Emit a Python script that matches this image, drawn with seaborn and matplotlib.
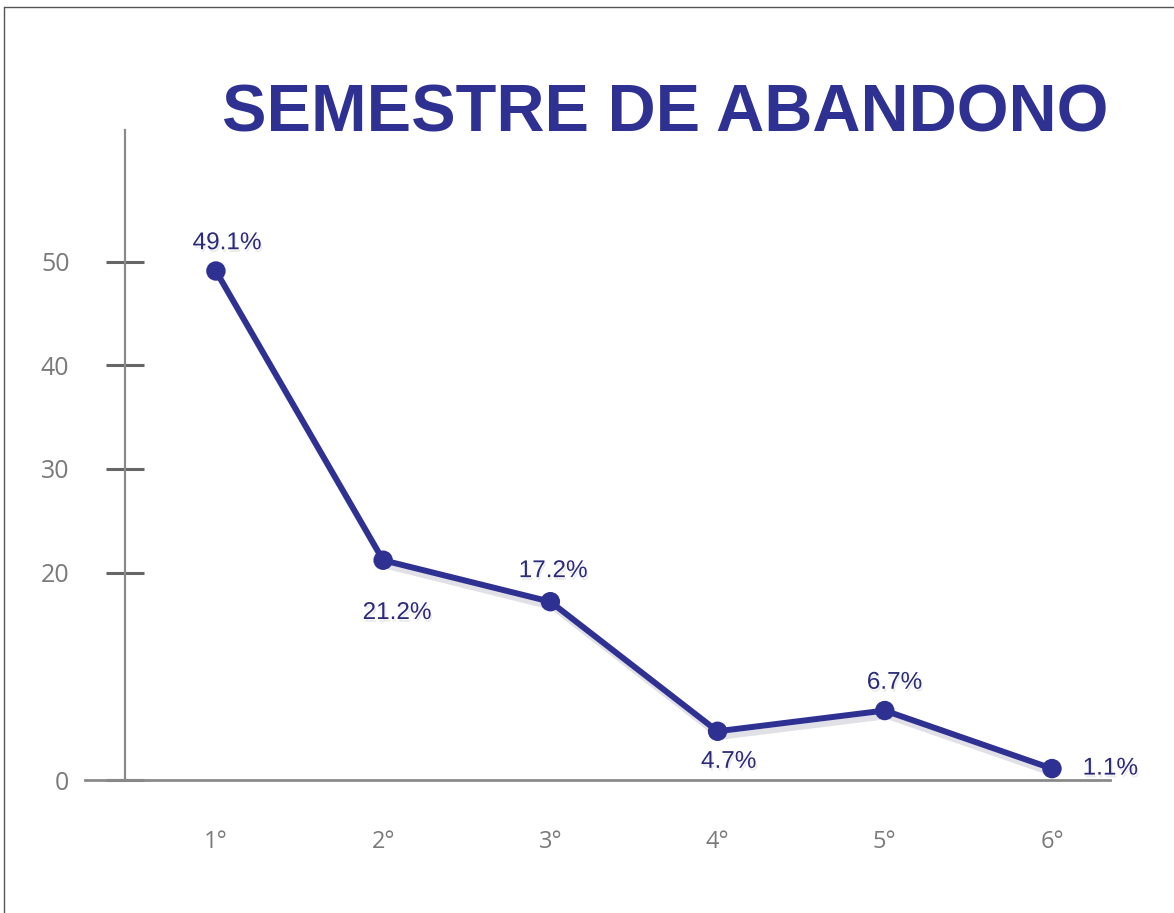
import pandas as pd
import matplotlib.pyplot as plt
import matplotlib.patheffects as pe
from matplotlib.lines import Line2D
import seaborn as sns

semesters = ['1°', '2°', '3°', '4°', '5°', '6°']
abandono = [49.1, 21.2, 17.2, 4.7, 6.7, 1.1]
labels = ['49.1%', '21.2%', '17.2%', '4.7%', '6.7%', '1.1%']
yticks = [0, 20, 30, 40, 50]

# where each value label sits relative to its point (points)
label_offsets = [(8, 20), (10, -38), (2, 22), (8, -22), (7, 20), (42, 0)]

navy = '#2e3192'
grey = '#8a8a8a'

sns.set_theme(style='white')
plt.rcParams['font.family'] = ['Liberation Sans', 'DejaVu Sans']

df = pd.DataFrame({'semestre': semesters, 'abandono': abandono})
df['pos'] = range(len(df))

fig = plt.figure(figsize=(11.74, 9.13), dpi=100)
ax = fig.add_axes([85 / 1174, 1 - 780 / 913, (1110 - 85) / 1174, (780 - 130) / 913])

sns.lineplot(data=df, x='pos', y='abandono', ax=ax, color=navy, linewidth=4.3,
             marker='o', markersize=14, markeredgewidth=0, zorder=3,
             path_effects=[pe.SimpleLineShadow(offset=(2, -4), alpha=0.18, shadow_color='#555577'),
                           pe.Normal()])

for i, (val, lab) in enumerate(zip(abandono, labels)):
    ax.annotate(lab, (i, val), xytext=label_offsets[i], textcoords='offset points',
                ha='center', va='center', fontsize=17.5, color='#2b2b7a',
                path_effects=[pe.withSimplePatchShadow(offset=(1, -2), alpha=0.08)])

ax.set_xlim(-0.783, 5.347)
ax.set_ylim(0, 62.7)
ax.set_xticks(df['pos'], semesters)
ax.set_yticks(yticks, [str(t) for t in yticks])
ax.set_xlabel('')
ax.set_ylabel('')

for s in ['top', 'right']:
    ax.spines[s].set_visible(False)
ax.spines['left'].set_position(('data', -0.544))
ax.spines['left'].set_color(grey)
ax.spines['left'].set_linewidth(1.6)
ax.spines['bottom'].set_color(grey)
ax.spines['bottom'].set_linewidth(2)

ax.tick_params(axis='y', direction='inout', length=28, width=2.2, color='#666666', pad=26, left=True,
               labelsize=18, labelcolor='#7a7a7a')
ax.tick_params(axis='x', length=0, pad=36, labelsize=17, labelcolor='#7a7a7a')
for t in ax.get_xticklabels() + ax.get_yticklabels():
    t.set_family(['Open Sans', 'DejaVu Sans'])

fig.text(665 / 1174, 1 - 131 / 913, 'SEMESTRE DE ABANDONO', ha='center', va='baseline',
         fontsize=48, fontweight='bold', color=navy)

# thin frame from the screenshot edge
fig.add_artist(Line2D([0.003, 1], [1 - 7 / 913, 1 - 7 / 913], color='#555555', lw=1))
fig.add_artist(Line2D([4 / 1174, 4 / 1174], [0, 1 - 7 / 913], color='#555555', lw=1))

fig.savefig('out.png', dpi=100)
